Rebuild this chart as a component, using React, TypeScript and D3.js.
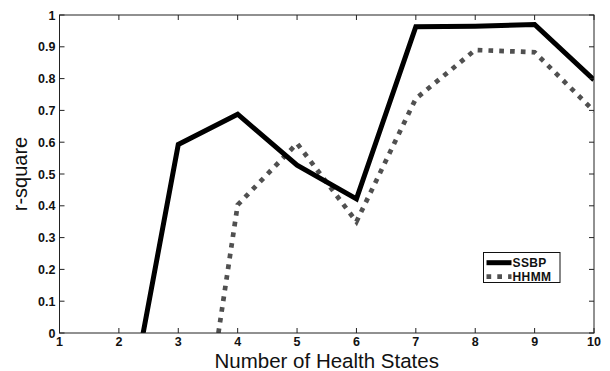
import { useEffect, useRef } from 'react';
import * as d3 from 'd3';

// values; points below 0 are clipped by the axes
const states = [2, 3, 4, 5, 6, 7, 8, 9, 10];
const ssbp = [-0.41, 0.593, 0.688, 0.528, 0.422, 0.963, 0.965, 0.97, 0.796];
const hhmmStates = [3, 4, 5, 6, 7, 8, 9, 10];
const hhmm = [-0.84, 0.403, 0.596, 0.35, 0.737, 0.89, 0.883, 0.698];
const xTicks = [1, 2, 3, 4, 5, 6, 7, 8, 9, 10];
const yTicks = [0, 0.1, 0.2, 0.3, 0.4, 0.5, 0.6, 0.7, 0.8, 0.9, 1];
const seriesNames = ['SSBP', 'HHMM'];

export default function App() {
  const ref = useRef<SVGSVGElement>(null);
  const width = 610;
  const height = 371;

  useEffect(() => {
    if (!ref.current) return;
    const svg = d3.select(ref.current);
    svg.selectAll('*').remove();

    const margin = { top: 15, right: 16, bottom: 38, left: 59.5 };
    const innerW = width - margin.left - margin.right;
    const innerH = height - margin.top - margin.bottom;
    const font = '"Liberation Sans", Arial, sans-serif';

    const x = d3.scaleLinear().domain([1, 10]).range([0, innerW]);
    const y = d3.scaleLinear().domain([0, 1]).range([innerH, 0]);

    svg.append('defs').append('clipPath').attr('id', 'plot-clip')
      .append('rect').attr('width', innerW).attr('height', innerH);

    const g = svg.append('g').attr('transform', `translate(${margin.left},${margin.top})`);

    const line = d3.line<[number, number]>().x((d) => x(d[0])).y((d) => y(d[1]));
    const lines = g.append('g').attr('clip-path', 'url(#plot-clip)');

    lines.append('path')
      .datum(hhmmStates.map((s, i) => [s, hhmm[i]] as [number, number]))
      .attr('d', line)
      .attr('fill', 'none')
      .attr('stroke', '#505050')
      .attr('stroke-width', 4.7)
      .attr('stroke-dasharray', '4.7,6.1');

    lines.append('path')
      .datum(states.map((s, i) => [s, ssbp[i]] as [number, number]))
      .attr('d', line)
      .attr('fill', 'none')
      .attr('stroke', '#000')
      .attr('stroke-width', 5)
      .attr('stroke-linejoin', 'miter');

    // box
    g.append('rect')
      .attr('width', innerW).attr('height', innerH)
      .attr('fill', 'none').attr('stroke', '#222').attr('stroke-width', 1);

    const tickLen = 5;
    const axes = g.append('g').attr('stroke', '#222').attr('stroke-width', 1);
    xTicks.forEach((t) => {
      axes.append('line').attr('x1', x(t)).attr('x2', x(t)).attr('y1', innerH).attr('y2', innerH - tickLen);
      axes.append('line').attr('x1', x(t)).attr('x2', x(t)).attr('y1', 0).attr('y2', tickLen);
    });
    yTicks.forEach((t) => {
      axes.append('line').attr('x1', 0).attr('x2', tickLen).attr('y1', y(t)).attr('y2', y(t));
      axes.append('line').attr('x1', innerW).attr('x2', innerW - tickLen).attr('y1', y(t)).attr('y2', y(t));
    });

    g.append('g').selectAll('text').data(xTicks).join('text')
      .attr('x', (d) => x(d)).attr('y', innerH + 13)
      .attr('text-anchor', 'middle')
      .attr('font-family', font).attr('font-weight', 'bold').attr('font-size', 12.5)
      .attr('fill', '#111')
      .text((d) => d);

    g.append('g').selectAll('text').data(yTicks).join('text')
      .attr('x', -4).attr('y', (d) => y(d) + 4.5)
      .attr('text-anchor', 'end')
      .attr('font-family', font).attr('font-weight', 'bold').attr('font-size', 12.5)
      .attr('fill', '#111')
      .text((d) => d3.format('~g')(d));

    g.append('text')
      .attr('x', innerW / 2).attr('y', innerH + 34.5)
      .attr('text-anchor', 'middle')
      .attr('font-family', font).attr('font-size', 20.5)
      .attr('fill', '#111')
      .text('Number of Health States');

    g.append('text')
      .attr('transform', `translate(${-margin.left + 27},${innerH / 2}) rotate(-90)`)
      .attr('text-anchor', 'middle')
      .attr('font-family', font).attr('font-size', 20)
      .attr('fill', '#111')
      .text('r-square');

    // legend
    const lg = svg.append('g').attr('transform', 'translate(483.5,252.5)');
    lg.append('rect').attr('width', 76.5).attr('height', 30)
      .attr('fill', '#fff').attr('stroke', '#111').attr('stroke-width', 1);
    const styles = [
      { stroke: '#000', dash: null, w: 5 },
      { stroke: '#505050', dash: '4.7,6.1', w: 4.7 },
    ];
    seriesNames.forEach((name, i) => {
      const baseline = 14.5 + i * 14;
      const cy = baseline - 4.3;
      const s = styles[i];
      const ln = lg.append('line').attr('x1', 3).attr('x2', 28).attr('y1', cy).attr('y2', cy)
        .attr('stroke', s.stroke).attr('stroke-width', s.w);
      if (s.dash) ln.attr('stroke-dasharray', s.dash);
      lg.append('text').attr('x', 29).attr('y', baseline)
        .attr('font-family', font).attr('font-weight', 'bold').attr('font-size', 12)
        .attr('letter-spacing', 0.4)
        .attr('fill', '#111')
        .text(name);
    });
  }, []);

  return (
    <svg
      ref={ref}
      width={width}
      height={height}
      style={{ position: 'absolute', left: 0, top: 0, background: '#fff' }}
    />
  );
}
